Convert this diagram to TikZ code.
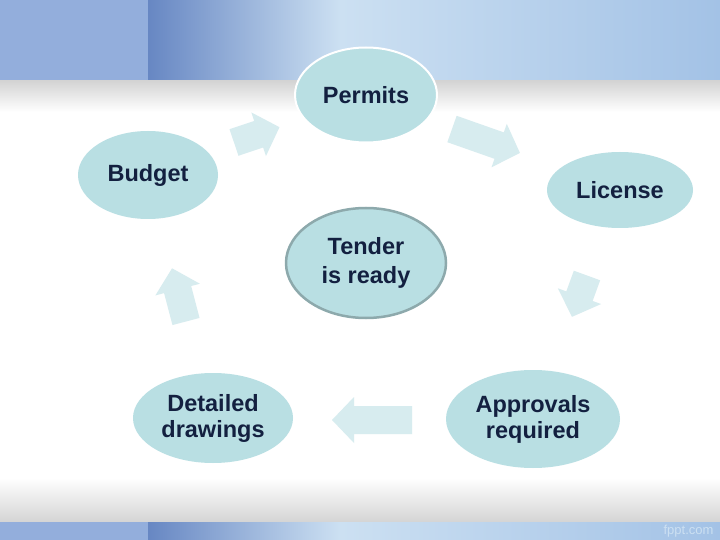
\documentclass[tikz,border=0pt]{standalone}
\usepackage{fontspec}
\setmainfont{Liberation Sans}
\usetikzlibrary{shapes.geometric}
\tikzset{% change default arrow tips
    >=latex
}
\definecolor{bubblefill}{HTML}{B9DFE3}
\definecolor{arrowfill}{HTML}{D7ECEF}
\definecolor{ink}{HTML}{132040}
\definecolor{tenderrim}{HTML}{8DA9AC}
\definecolor{bandpale}{HTML}{93AEDC}
\definecolor{banddark}{HTML}{6787C3}
\definecolor{bandlight}{HTML}{CCE0F2}
\definecolor{bandmid}{HTML}{A3C2E6}
\definecolor{fadegray}{HTML}{D4D4D4}

\begin{document}
\begin{tikzpicture}[x=1pt,y=-1pt,
    bubble/.style={ellipse, fill=bubblefill, text=ink, inner sep=0pt,
        align=center, font=\bfseries\fontsize{23.5}{26}\selectfont}]
    		% one block arrow: base x, base y, angle, length
    		\newcommand{\blockarrow}[4]{%
    			\fill[arrowfill, shift={(#1,#2)}, rotate=#3]
    				(0,-14) -- (#4-22,-14) -- (#4-22,-23) -- (#4,0)
    				-- (#4-22,23) -- (#4-22,14) -- (0,14) -- cycle;}

    		\useasboundingbox (0,0) rectangle (720,540);

    		% background
    		\fill[white] (0,0) rectangle (720,540);
    		\fill[bandpale] (0,0) rectangle (148,81);
    		\shade[left color=banddark, right color=bandlight] (148,0) rectangle (340,81);
    		\shade[left color=bandlight, right color=bandmid] (340,0) rectangle (720,81);
    		\shade[top color=fadegray, bottom color=white] (0,81) rectangle (720,112);
    		\shade[top color=white, bottom color=fadegray] (0,478) rectangle (720,522);
    		\fill[bandpale] (0,522) rectangle (148,540);
    		\shade[left color=banddark, right color=bandlight] (148,522) rectangle (340,540);
    		\shade[left color=bandlight, right color=bandmid] (340,522) rectangle (720,540);
    		\node[anchor=east, text=bandlight, font=\fontsize{13}{13}\selectfont] (brand) at (717,531) {fppt.com};

    		% stages
    		\node[bubble, minimum width=142, minimum height=95, draw=white, line width=2pt] (permits) at (366,95) {Permits};
    		\node[bubble, minimum width=140, minimum height=88] (budget) at (148,175) {Budget};
    		\node[bubble, minimum width=146, minimum height=76] (license) at (620,190) {License};
    		\node[bubble, minimum width=160, minimum height=110, draw=tenderrim, line width=2.5pt,
    			font=\bfseries\fontsize{23.5}{29}\selectfont] (tender) at (366,263) {Tender\\is ready};
    		\node[bubble, minimum width=160, minimum height=90] (drawings) at (213,418) {Detailed\\drawings};
    		\node[bubble, minimum width=174, minimum height=98] (approvals) at (533,419) {Approvals\\required};

    		% arrows round the cycle
    		\blockarrow{234}{142.5}{18.6}{48}
    		\blockarrow{452}{129}{-19.4}{72}
    		\blockarrow{587}{275.5}{-110}{44}
    		\blockarrow{412}{420}{180}{80}
    		\blockarrow{186}{321.5}{104.7}{55}
\end{tikzpicture}
\end{document}
